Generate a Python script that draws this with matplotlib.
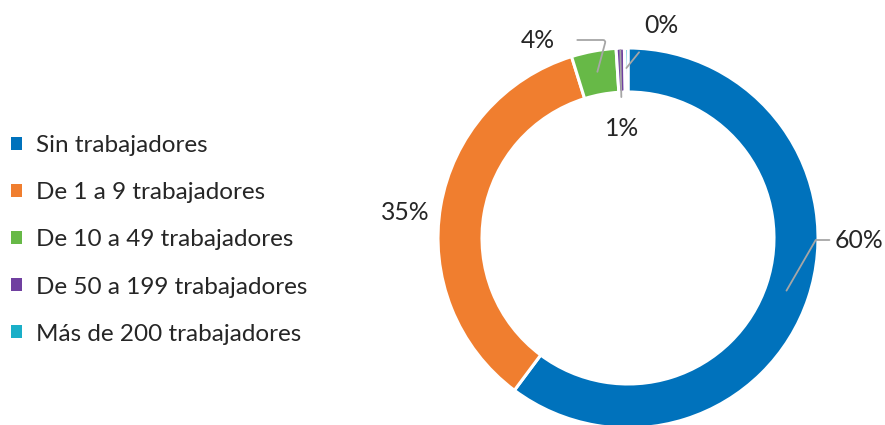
import numpy as np
import matplotlib
matplotlib.use("Agg")
import matplotlib.pyplot as plt

categories = ["Sin trabajadores", "De 1 a 9 trabajadores", "De 10 a 49 trabajadores",
              "De 50 a 199 trabajadores", "Más de 200 trabajadores"]
values = [60.2, 35.0, 3.8, 0.7, 0.3]
value_labels = ["60%", "35%", "4%", "1%", "0%"]
colors = ["#0072BC", "#F07E2F", "#67B947", "#7040A0", "#1AAFC8"]

plt.rcParams['font.family'] = ['Lato', 'DejaVu Sans']
W, H = 885, 425
FS = 17.8
LFS = 17.5
fig = plt.figure(figsize=(W / 100, H / 100), dpi=100)
ax = fig.add_axes([0, 0, 1, 1])
ax.set_xlim(0, W)
ax.set_ylim(0, H)
ax.set_aspect('equal')
ax.axis('off')

cx, cy, R, ring = 628, H - 238, 190, 44
wedges, _ = ax.pie(values, colors=colors, startangle=90, counterclock=False,
                   center=(cx, cy), radius=R,
                   wedgeprops=dict(width=ring, edgecolor='white', linewidth=2.2))
ax.set_xlim(0, W)
ax.set_ylim(0, H)

txtc = "#262626"
linec = "#A6A6A6"

def mid_point(i, r):
    w = wedges[i]
    a = np.deg2rad((w.theta1 + w.theta2) / 2)
    return cx + r * np.cos(a), cy + r * np.sin(a)

# 60%
p = mid_point(0, 167)
ax.annotate(value_labels[0], xy=p, xytext=(835, H - 240), ha='left', va='center',
            fontsize=FS, color=txtc,
            arrowprops=dict(arrowstyle='-', color=linec, lw=1.3,
                            connectionstyle="angle,angleA=0,angleB=60,rad=0",
                            shrinkA=2, shrinkB=0))
# 35%
ax.text(405, H - 212, value_labels[1], ha='center', va='center', fontsize=FS, color=txtc)
# 4%
p = mid_point(2, 169)
ax.annotate(value_labels[2], xy=p, xytext=(538, H - 40), ha='center', va='center',
            fontsize=FS, color=txtc,
            arrowprops=dict(arrowstyle='-', color=linec, lw=1.3,
                            connectionstyle="angle,angleA=0,angleB=75,rad=3",
                            shrinkA=14, shrinkB=0))
# 1%
p = mid_point(3, 188)
ax.annotate(value_labels[3], xy=p, xytext=(622, H - 128), ha='center', va='center',
            fontsize=FS, color=txtc,
            arrowprops=dict(arrowstyle='-', color=linec, lw=1.3,
                            shrinkA=12, shrinkB=0))
# 0%
p = mid_point(4, 170)
ax.annotate(value_labels[4], xy=p, xytext=(661, H - 25), ha='center', va='center',
            fontsize=FS, color=txtc,
            arrowprops=dict(arrowstyle='-', color=linec, lw=1.3,
                            shrinkA=12, shrinkB=0))

leg = fig.legend(wedges, categories, loc='center left',
                 bbox_to_anchor=(0.012, 1 - 240 / H), frameon=False,
                 fontsize=LFS, handlelength=0.45, handleheight=0.45,
                 handletextpad=0.6, labelspacing=1.07, borderpad=0, borderaxespad=0)
for t in leg.get_texts():
    t.set_color(txtc)
for h in leg.legend_handles:
    h.set_edgecolor('none')

fig.savefig("out.png", dpi=100, facecolor='white')
